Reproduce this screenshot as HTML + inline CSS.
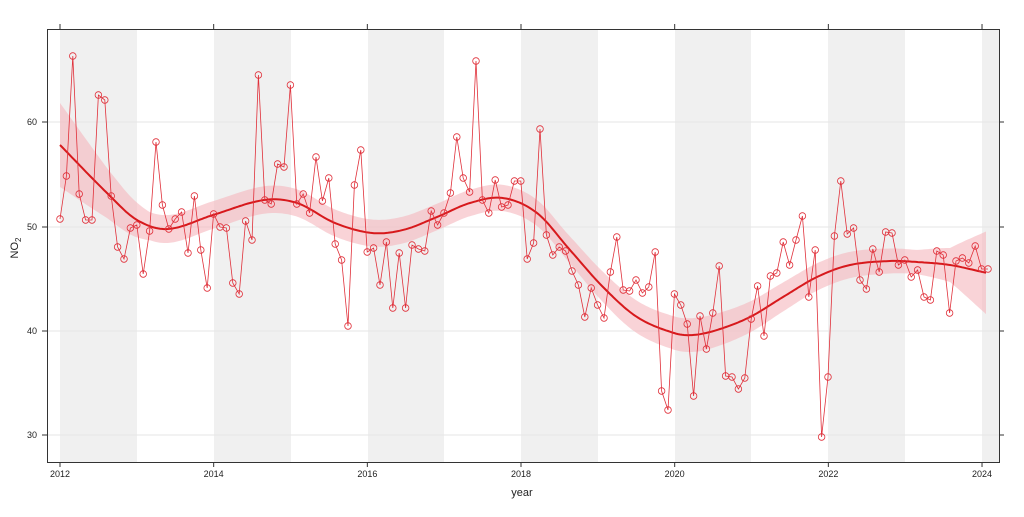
<!DOCTYPE html>
<html><head><meta charset="utf-8"><style>
body{margin:0;background:#fff;width:1024px;height:512px;overflow:hidden;font-family:"Liberation Sans",sans-serif}
</style></head><body>
<svg id="s" width="1024" height="512" xmlns="http://www.w3.org/2000/svg" font-family="Liberation Sans, sans-serif">
<g fill="#f0f0f0">
<rect x="60" y="29" width="77" height="433"/>
<rect x="214" y="29" width="77" height="433"/>
<rect x="368" y="29" width="76" height="433"/>
<rect x="521" y="29" width="77" height="433"/>
<rect x="675" y="29" width="76" height="433"/>
<rect x="828" y="29" width="77" height="433"/>
<rect x="982" y="29" width="17" height="433"/>
</g>
<g stroke="#e6e6e6" stroke-width="1">
<line x1="47" x2="999" y1="122" y2="122"/><line x1="47" x2="999" y1="227" y2="227"/>
<line x1="47" x2="999" y1="331" y2="331"/><line x1="47" x2="999" y1="435" y2="435"/>
</g>
<g id="plot"></g>
<rect x="47.5" y="29.5" width="952" height="433" fill="none" stroke="#333"/>
<g stroke="#333" id="ticks"></g>
<g font-size="9" fill="#222" text-anchor="end">
<text x="37" y="125">60</text><text x="37" y="230">50</text><text x="37" y="334">40</text><text x="37" y="438">30</text>
</g>
<g font-size="9" fill="#222" text-anchor="middle" id="xl"></g>
<text x="522" y="496" font-size="11" text-anchor="middle" fill="#222">year</text>
<text transform="translate(18,248) rotate(-90)" font-size="11" fill="#222" text-anchor="middle">NO<tspan font-size="8" dy="3">2</tspan></text>
</svg>
<script>
var ys=[219,176,56,194,220,220,95,100,196,247,259,228,225,274,231,142,205,229,219,212,253,196,250,288,214,227,228,283,294,221,240,75,200,204,164,167,85,204,194,213,157,201,178,244,260,326,185,150,252,248,285,242,308,253,308,245,249,251,211,225,213,193,137,178,192,61,200,213,180,207,205,181,181,259,243,129,235,255,247,251,271,285,317,288,305,318,272,237,290,291,280,293,287,252,391,410,294,305,324,396,316,349,313,266,376,377,389,378,319,286,336,276,273,242,265,240,216,297,250,437,377,236,181,234,228,280,289,249,272,232,233,265,260,277,270,297,300,251,255,313,261,258,263,246,269,269];
var ns="http://www.w3.org/2000/svg",P=document.getElementById('plot');
function el(t,a,p){var e=document.createElementNS(ns,t);for(var k in a)e.setAttribute(k,a[k]);(p||P).appendChild(e);return e;}
var c=[[60,145],[107,193],[137,220],[168,229],[213,215],[264,200],[297,203],[335,223],[372,233],[403,230],[437,217],[470,203],[503,198],[537,213],[570,250],[603,287],[637,317],[674,333],[693,335],[717,330],[750,317],[783,297],[817,277],[850,265],[890,261],[917,262],[950,265],[987,273]];
var hw=[[60,42],[107,25],[150,14],[560,13],[620,16],[700,17],[800,14],[917,12],[950,17],[987,42]];
function interp(t,x){for(var i=0;i<t.length-1;i++){if(x<=t[i+1][0]){var f=(x-t[i][0])/(t[i+1][0]-t[i][0]);return t[i][1]+f*(t[i+1][1]-t[i][1]);}}return t[t.length-1][1];}
function cr(x){for(var i=0;i<c.length-1;i++){if(x<=c[i+1][0]){var p0=c[Math.max(0,i-1)],p1=c[i],p2=c[i+1],p3=c[Math.min(c.length-1,i+2)];var t=(x-p1[0])/(p2[0]-p1[0]);var m1=(p2[1]-p0[1])/(p2[0]-p0[0])*(p2[0]-p1[0]),m2=(p3[1]-p1[1])/(p3[0]-p1[0])*(p2[0]-p1[0]);var t2=t*t,t3=t2*t;return (2*t3-3*t2+1)*p1[1]+(t3-2*t2+t)*m1+(-2*t3+3*t2)*p2[1]+(t3-t2)*m2;}}return c[c.length-1][1];}
var up=[],lo=[],mid=[];
for(var x=60;x<=987;x+=2){var y=cr(x),h=interp(hw,x);up.push(x+','+(y-h).toFixed(1));lo.unshift(x+','+(y+h).toFixed(1));mid.push(x+','+y.toFixed(1));}
el('polygon',{points:up.concat(lo).join(' '),fill:'#f5b5bd','fill-opacity':'0.6'});
el('polyline',{points:mid.join(' '),fill:'none',stroke:'#d7191c','stroke-width':'2'});
var pts=ys.map(function(y,i){return (60+i*6.4).toFixed(1)+','+y;});
el('polyline',{points:pts.join(' '),fill:'none',stroke:'#e0303a','stroke-width':'0.8'});
ys.forEach(function(y,i){el('circle',{cx:(60+i*6.4).toFixed(1),cy:y,r:3.3,fill:'none',stroke:'#e0303a','stroke-width':'0.8'});});
var T=document.getElementById('ticks'),X=document.getElementById('xl');
for(var k=0;k<=6;k++){var xx=60+k*153.67;el('line',{x1:xx,x2:xx,y1:462,y2:467},T);el('line',{x1:xx,x2:xx,y1:29,y2:24},T);var t=el('text',{x:xx,y:477},X);t.textContent=2012+2*k;}
[122,227,331,435].forEach(function(y){el('line',{x1:42,x2:47,y1:y,y2:y},T);el('line',{x1:999,x2:1004,y1:y,y2:y},T);});
</script>
</body></html>
